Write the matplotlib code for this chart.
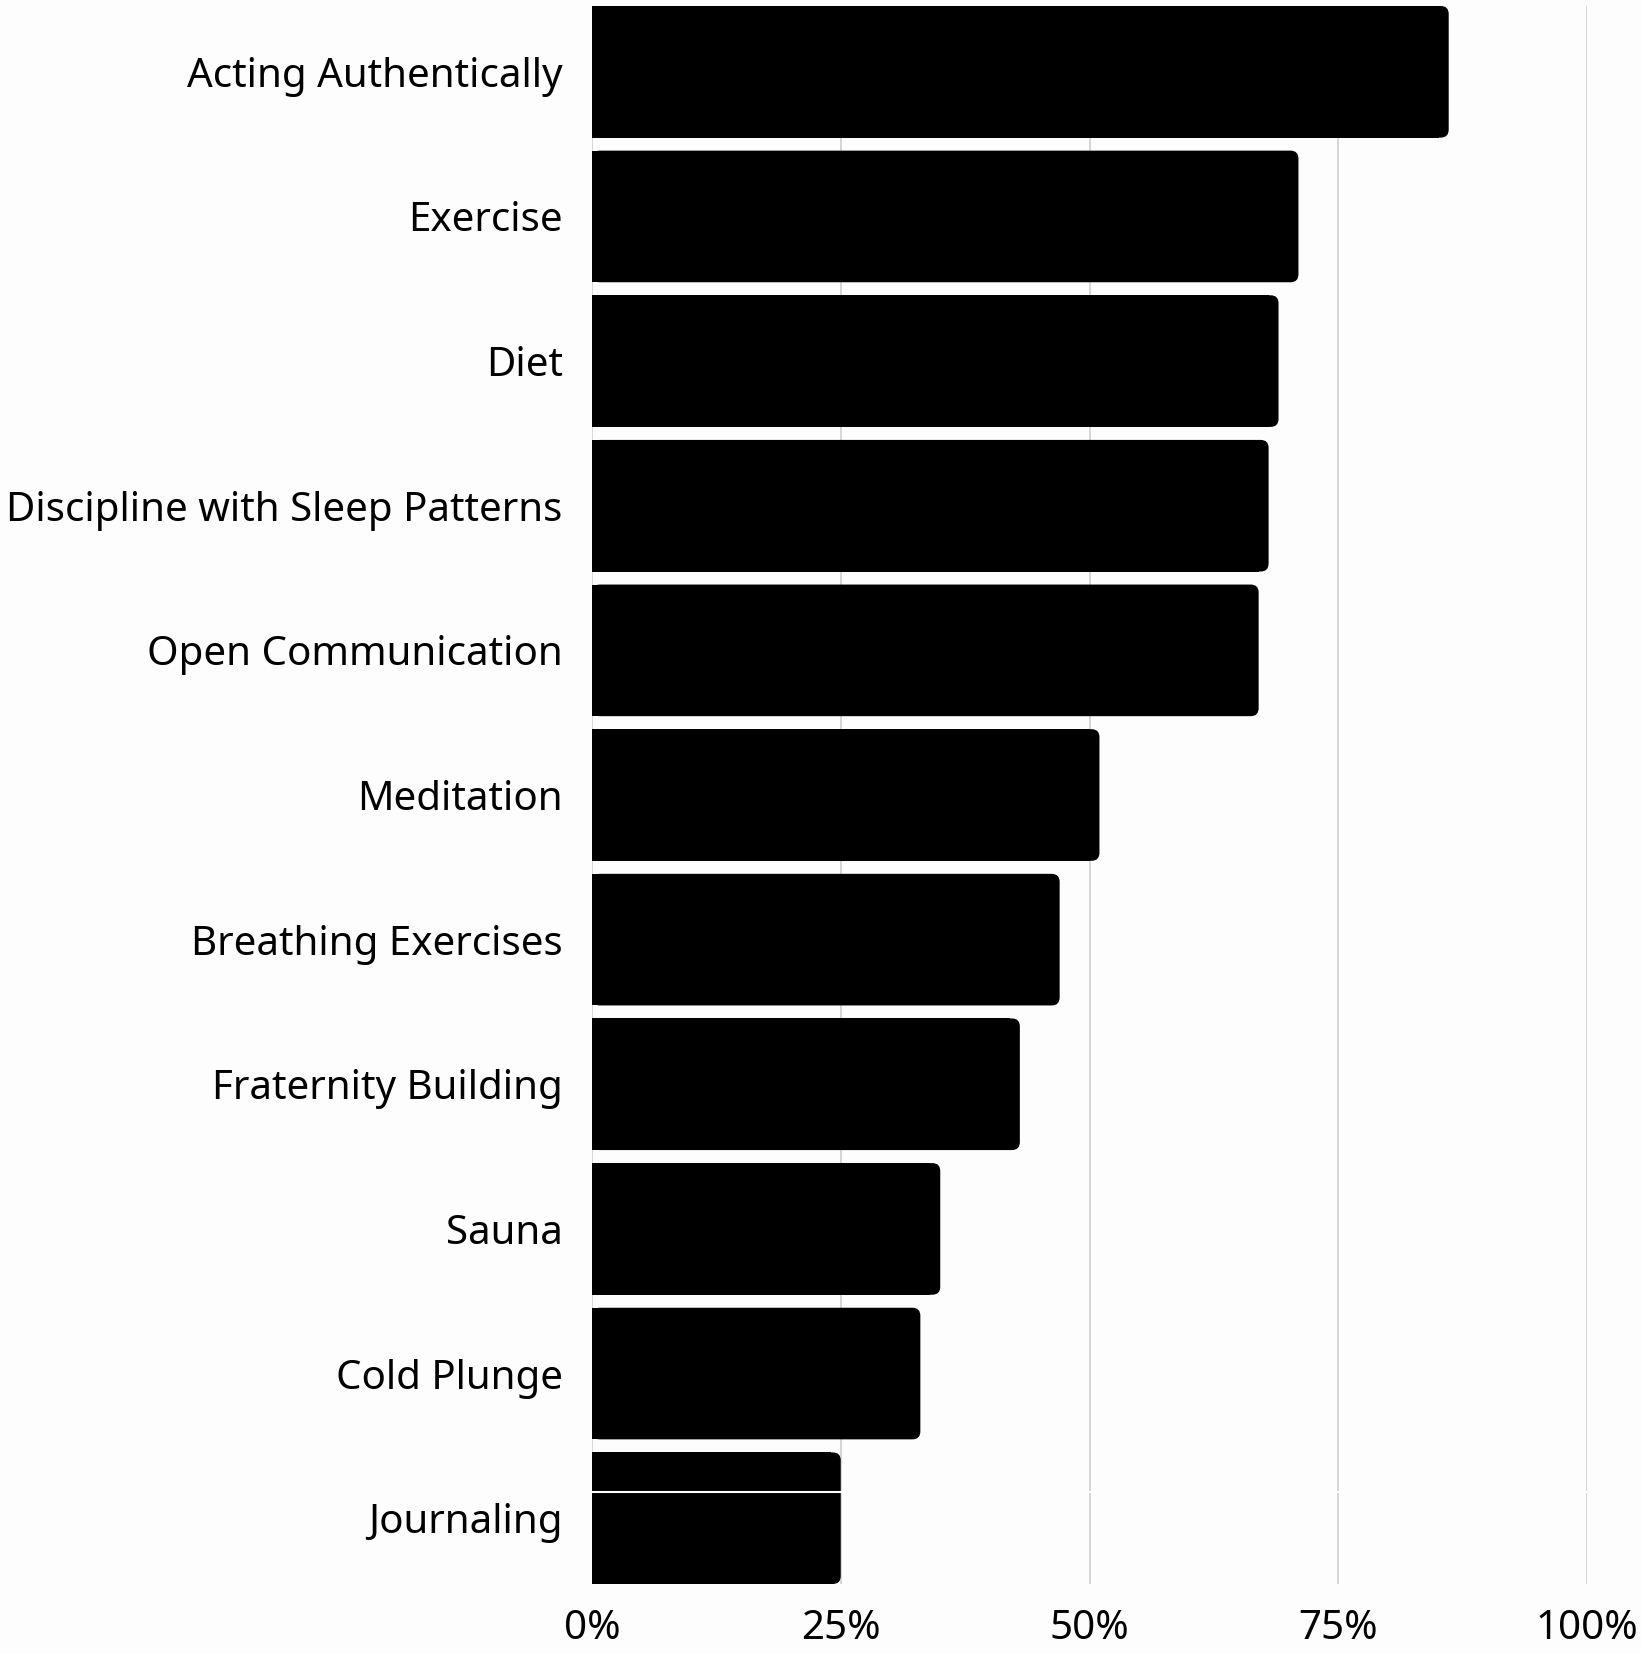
import matplotlib
matplotlib.use("Agg")
import matplotlib.pyplot as plt
from matplotlib.patches import FancyBboxPatch
from matplotlib.ticker import FuncFormatter

# practices and share of respondents (%)
practices = ["Acting Authentically", "Exercise", "Diet", "Discipline with Sleep Patterns",
             "Open Communication", "Meditation", "Breathing Exercises", "Fraternity Building",
             "Sauna", "Cold Plunge", "Journaling"]
shares = [86.1, 71.0, 69.0, 68.0, 67.0, 51.0, 47.0, 43.0, 35.0, 33.0, 25.0]
ticks = [0, 25, 50, 75, 100]

bg = "#fdfdfd"
plt.rcParams["font.family"] = ["Noto Sans", "DejaVu Sans"]

fig = plt.figure(figsize=(16.41, 16.54), dpi=100, facecolor=bg)
ax = fig.add_axes([592 / 1641, 70 / 1654, 995 / 1641, 1578 / 1654], facecolor=bg)

h = 0.91
ypos = list(range(len(practices)))
# square left part, rounded right end
ax.barh(ypos, [v - 1 for v in shares], height=h, color="black", lw=0, zorder=3)
for y, v in zip(ypos, shares):
    p = FancyBboxPatch((0, y - h / 2), v, h, boxstyle="round,pad=0,rounding_size=0.8",
                       mutation_aspect=0.069, facecolor="black", edgecolor="none", zorder=3)
    ax.add_patch(p)

# thin render seam through the last bar
ax.axhline(9.82, color=bg, lw=1.5, zorder=4)

ax.set_xlim(0, 100)
ax.set_ylim(len(practices) - 1 + h / 2, -h / 2)
ax.set_yticks(ypos)
ax.set_yticklabels(practices)
ax.set_xticks(ticks)
ax.xaxis.set_major_formatter(FuncFormatter(lambda x, _: f"{x:.0f}%"))
ax.tick_params(axis="y", length=0, pad=21, labelsize=29)
ax.tick_params(axis="x", length=0, pad=18, labelsize=29)
ax.grid(axis="x", color="#d3d3d3", lw=1.3, zorder=0)
for s in ax.spines.values():
    s.set_visible(False)

fig.savefig("out.png", dpi=100, facecolor=bg)
